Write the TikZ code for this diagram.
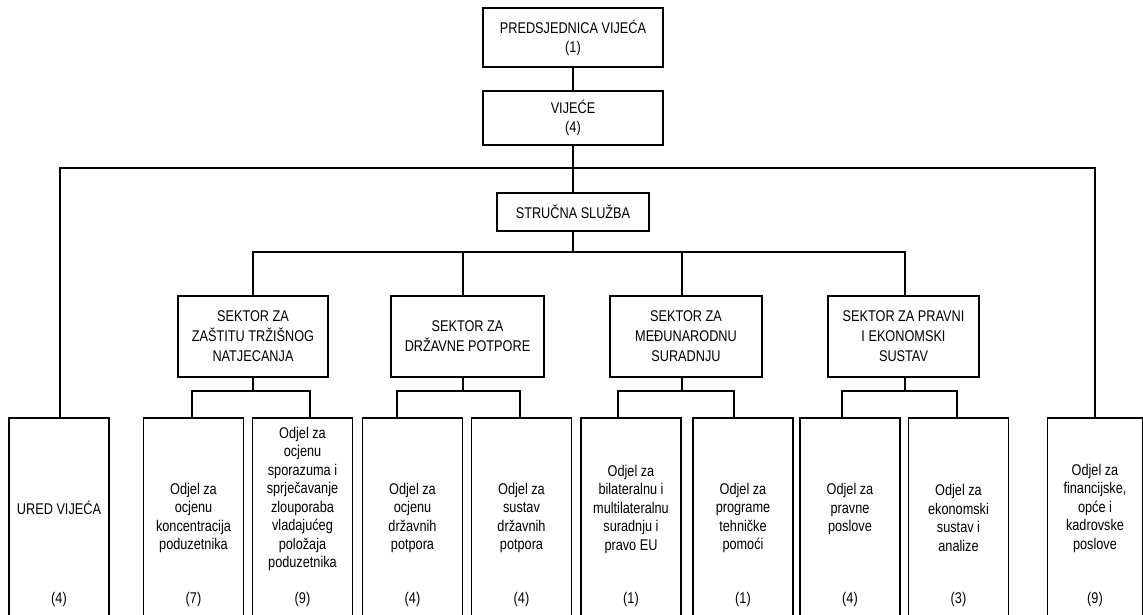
\documentclass[tikz,border=0pt]{standalone}
\usepackage{fontspec}
\setmainfont{Liberation Sans}[FakeStretch=0.82]
\begin{document}
\begin{tikzpicture}[x=1pt,y=-1pt,
  conn/.style={line width=1.2pt},
  hbox/.style={draw, line width=1.2pt, align=center, inner sep=2pt,
    font=\fontsize{15.5}{19}\selectfont},
  topbox/.style={hbox, minimum width=180pt},
  secbox/.style={hbox, minimum height=81pt, font=\fontsize{15.5}{20}\selectfont},
  dept/.style={draw, line width=1.2pt, minimum width=100pt, minimum height=202pt, inner sep=0pt},
  dtxt/.style={align=center, inner sep=0pt, font=\fontsize{15.5}{18.5}\selectfont},
  cnt/.style={inner sep=0pt, font=\fontsize{15.5}{18.5}\selectfont}]
\useasboundingbox (0,0) rectangle (1143,615);

% top levels
\node[topbox, minimum height=59pt] (pres) at (573,37.5) {PREDSJEDNICA VIJEĆA\\(1)};
\node[topbox, minimum height=54pt] (vij) at (573,118) {VIJEĆE\\(4)};
\node[hbox, minimum width=152pt, minimum height=38pt] (struc) at (573,212) {STRUČNA SLUŽBA};

% sectors
\node[secbox, minimum width=150pt] (s1) at (253,336.5) {SEKTOR ZA\\ZAŠTITU TRŽIŠNOG\\NATJECANJA};
\node[secbox, minimum width=153pt] (s2) at (467.5,336.5) {SEKTOR ZA\\DRŽAVNE POTPORE};
\node[secbox, minimum width=152pt] (s3) at (686,336.5) {SEKTOR ZA\\MEĐUNARODNU\\SURADNJU};
\node[secbox, minimum width=151pt] (s4) at (903.5,336.5) {SEKTOR ZA PRAVNI\\I EKONOMSKI\\SUSTAV};

% departments
\node[dept] (b1) at (59,519) {};
\node[dept] (b2) at (193.5,519) {};
\node[dept] (b3) at (302.5,519) {};
\node[dept] (b4) at (412.5,519) {};
\node[dept] (b5) at (521.5,519) {};
\node[dept] (b6) at (631,519) {};
\node[dept] (b7) at (743,519) {};
\node[dept] (b8) at (850,519) {};
\node[dept] (b9) at (958.5,519) {};
\node[dept, minimum width=95pt] (b10) at (1095,519) {};

\node[dtxt] (d1) at (59,508) {URED VIJEĆA};
\node[dtxt] (d2) at (193.5,518) {Odjel za\\ocjenu\\koncentracija\\poduzetnika};
\node[dtxt] (d3) at (302.5,499) {Odjel za\\ocjenu\\sporazuma i\\sprječavanje\\zlouporaba\\vladajućeg\\položaja\\poduzetnika};
\node[dtxt] (d4) at (412.5,518) {Odjel za\\ocjenu\\državnih\\potpora};
\node[dtxt] (d5) at (521.5,518) {Odjel za\\sustav\\državnih\\potpora};
\node[dtxt] (d6) at (631,509) {Odjel za\\bilateralnu i\\multilateralnu\\suradnju i\\pravo EU};
\node[dtxt] (d7) at (743,518) {Odjel za\\programe\\tehničke\\pomoći};
\node[dtxt] (d8) at (850,509) {Odjel za\\pravne\\poslove};
\node[dtxt] (d9) at (958.5,518) {Odjel za\\ekonomski\\sustav i\\analize};
\node[dtxt] (d10) at (1095,508) {Odjel za\\financijske,\\opće i\\kadrovske\\poslove};

\node[cnt] (c1) at (59,599) {(4)};
\node[cnt] (c2) at (193.5,599) {(7)};
\node[cnt] (c3) at (302.5,599) {(9)};
\node[cnt] (c4) at (412.5,599) {(4)};
\node[cnt] (c5) at (521.5,599) {(4)};
\node[cnt] (c6) at (631,599) {(1)};
\node[cnt] (c7) at (743,599) {(1)};
\node[cnt] (c8) at (850,599) {(4)};
\node[cnt] (c9) at (958.5,599) {(3)};
\node[cnt] (c10) at (1095,599) {(9)};

% connectors
\draw[conn] (pres) -- (vij);
\draw[conn] (vij.south) -- (vij.south |- 0,168) coordinate (jm);
\draw[conn] (jm) -- (struc.north);
\draw[conn] ([xshift=1pt]b1.north) |- (jm);
\draw[conn] (b10.north) |- (jm);

\draw[conn] (struc.south) -- (struc.south |- 0,252) coordinate (js);
\draw[conn] (s1.north) |- (js);
\draw[conn] ([xshift=-4.5pt]s2.north) |- (js);
\draw[conn] ([xshift=-4pt]s3.north) |- (js);
\draw[conn] ([xshift=1.5pt]s4.north) |- (js);

\draw[conn] (s1.south) -- (s1.south |- 0,391) coordinate (j1);
\draw[conn] ([xshift=-1.5pt]b2.north) |- (j1);
\draw[conn] ([xshift=7.5pt]b3.north) |- (j1);

\draw[conn] ([xshift=-4.5pt]s2.south) -- ([xshift=-4.5pt]s2.south |- 0,391) coordinate (j2);
\draw[conn] ([xshift=-15.5pt]b4.north) |- (j2);
\draw[conn] ([xshift=-1.5pt]b5.north) |- (j2);

\draw[conn] ([xshift=-4pt]s3.south) -- ([xshift=-4pt]s3.south |- 0,391) coordinate (j3);
\draw[conn] ([xshift=-13pt]b6.north) |- (j3);
\draw[conn] ([xshift=-9pt]b7.north) |- (j3);

\draw[conn] ([xshift=1.5pt]s4.south) -- ([xshift=1.5pt]s4.south |- 0,391) coordinate (j4);
\draw[conn] ([xshift=-8pt]b8.north) |- (j4);
\draw[conn] ([xshift=-1.5pt]b9.north) |- (j4);
\end{tikzpicture}
\end{document}
